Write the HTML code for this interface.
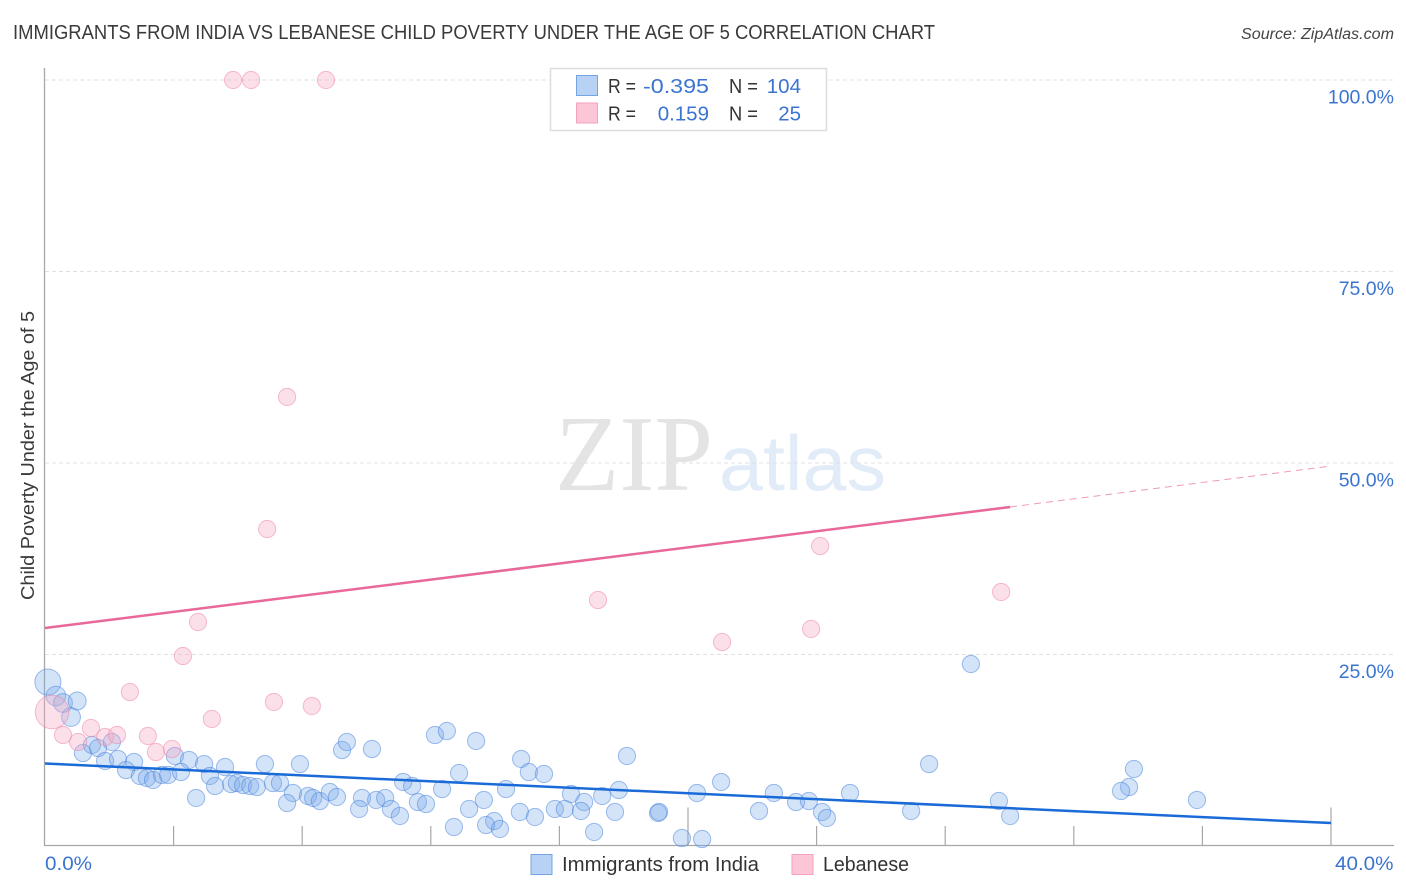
<!DOCTYPE html>
<html>
<head>
<meta charset="utf-8">
<title>Immigrants from India vs Lebanese Child Poverty Correlation Chart</title>
<style>
html,body{margin:0;padding:0;background:#fff;}
svg{display:block;font-family:"Liberation Sans",sans-serif;}
</style>
</head>
<body>
<svg id="chart" width="1406" height="892" viewBox="0 0 1406 892" xmlns="http://www.w3.org/2000/svg">
  <rect x="0" y="0" width="1406" height="892" fill="#ffffff"/>
  <text x="13" y="39" font-size="20" fill="#3a3a3a" textLength="922" lengthAdjust="spacingAndGlyphs">IMMIGRANTS FROM INDIA VS LEBANESE CHILD POVERTY UNDER THE AGE OF 5 CORRELATION CHART</text>
  <text x="1394" y="39" font-size="15.5" font-style="italic" fill="#444444" text-anchor="end" textLength="153" lengthAdjust="spacingAndGlyphs">Source: ZipAtlas.com</text>

  <g>
    <text x="555" y="490" font-family="'Liberation Serif',serif" font-size="108" fill="#e4e4e4" textLength="158" lengthAdjust="spacingAndGlyphs">ZIP</text>
    <text x="719" y="490" font-size="78" fill="#e2ecf9" textLength="167" lengthAdjust="spacingAndGlyphs">atlas</text>
  </g>

  <g id="grid"></g>
  <g id="axes"></g>
  <g id="india-points"></g>
  <g id="lebanese-points"></g>
  <g id="trends"></g>
  <g id="labels"></g>

  <text transform="translate(34,455.5) rotate(-90)" font-size="18.5" fill="#3a3a3a" text-anchor="middle" textLength="289" lengthAdjust="spacingAndGlyphs">Child Poverty Under the Age of 5</text>

  <g>
    <rect x="550.5" y="68.5" width="276" height="62" fill="#ffffff" stroke="#dddddd" stroke-width="1.5"/>
    <rect x="576.5" y="75.5" width="21" height="20" fill="#b7d2f5" stroke="#74a5e2" stroke-width="1"/>
    <text x="608" y="93" font-size="20" fill="#333333" textLength="28" lengthAdjust="spacingAndGlyphs">R =</text>
    <text x="643" y="93" font-size="20.5" fill="#3b74d0" textLength="66" lengthAdjust="spacingAndGlyphs">-0.395</text>
    <text x="729" y="93" font-size="20" fill="#333333" textLength="29" lengthAdjust="spacingAndGlyphs">N =</text>
    <text x="801" y="93" font-size="20.5" fill="#3b74d0" text-anchor="end">104</text>
    <rect x="576.5" y="103" width="21" height="20" fill="#fcc6d7" stroke="#f3a3bc" stroke-width="1"/>
    <text x="608" y="120.5" font-size="20" fill="#333333" textLength="28" lengthAdjust="spacingAndGlyphs">R =</text>
    <text x="709" y="120.5" font-size="20.5" fill="#3b74d0" text-anchor="end">0.159</text>
    <text x="729" y="120.5" font-size="20" fill="#333333" textLength="29" lengthAdjust="spacingAndGlyphs">N =</text>
    <text x="801" y="120.5" font-size="20.5" fill="#3b74d0" text-anchor="end">25</text>
  </g>

  <g>
    <rect x="531" y="854.5" width="21" height="20" fill="#b7d2f5" stroke="#74a5e2" stroke-width="1"/>
    <text x="562" y="871" font-size="20" fill="#333333" textLength="197" lengthAdjust="spacingAndGlyphs">Immigrants from India</text>
    <rect x="792" y="854.5" width="21" height="20" fill="#fcc6d7" stroke="#f3a3bc" stroke-width="1"/>
    <text x="823" y="871" font-size="20" fill="#333333" textLength="86" lengthAdjust="spacingAndGlyphs">Lebanese</text>
  </g>
</svg>
<script>
const indiaX = [0.09,0.34,0.56,1.00,0.81,1.18,1.46,1.65,2.08,1.87,2.27,2.77,2.52,2.95,3.17,3.36,3.64,3.83,4.04,4.48,4.23,4.95,5.13,5.60,5.29,5.79,5.97,6.16,6.38,6.59,6.84,7.93,7.09,7.31,7.71,7.53,8.18,8.34,8.55,8.86,9.08,4.70,9.24,9.39,10.17,12.13,12.50,13.41,14.81,15.05,15.52,18.10,11.14,11.42,12.88,12.35,14.34,9.86,9.77,10.30,10.58,10.76,11.04,11.60,11.85,13.19,13.65,12.72,13.97,13.72,14.15,14.77,15.24,15.86,16.17,16.36,16.77,16.67,17.33,17.85,17.73,17.08,19.07,19.10,19.81,20.28,21.03,20.44,22.21,22.67,23.36,23.76,24.17,24.32,25.04,26.94,27.50,28.80,29.67,30.02,33.87,33.72,33.47,35.83];
const indiaY = [21.41,19.58,18.67,18.93,16.84,12.14,13.19,12.79,13.58,11.10,11.36,10.97,9.92,9.14,8.88,8.62,9.27,9.27,11.75,11.23,9.66,10.70,9.14,10.31,7.83,8.09,8.22,7.96,7.83,7.70,10.70,10.70,8.22,8.22,6.92,5.61,6.53,6.27,5.87,7.05,6.40,6.27,12.53,13.58,12.66,14.49,15.01,13.71,11.36,9.66,9.40,11.75,8.36,7.83,9.53,7.44,7.44,6.27,4.83,6.01,6.27,4.83,3.92,5.74,5.48,4.83,6.01,2.48,3.26,2.74,2.22,4.44,3.79,4.83,4.83,6.79,5.74,4.57,6.53,7.31,4.44,1.83,4.31,4.44,1.04,6.92,8.36,0.91,4.57,6.92,5.74,5.87,4.44,3.66,6.92,4.57,10.70,23.76,5.87,3.92,10.05,7.70,7.18,6.01];
const indiaWeight = [2.3,1.3,1.2,1.1,1.2];
const lebaneseX = [5.85,6.41,8.74,7.53,6.91,24.11,29.74,17.20,23.83,21.06,4.76,4.29,2.64,7.12,8.30,5.19,0.22,0.56,1.43,1.03,1.87,2.24,3.20,3.45,3.95];
const lebaneseY = [100,100,100,58.62,41.38,39.16,33.16,32.11,28.33,26.63,29.24,24.80,20.10,18.80,18.28,16.58,17.49,14.49,15.40,13.58,14.23,14.49,14.36,12.27,12.66];
const lebaneseWeight = [1,1,1,1,1,1,1,1,1,1,1,1,1,1,1,1,3.8];
const indiaTrendX = [0,40];
const indiaTrendY = [10.77,3.0];
const lebaneseTrendX = [0,30.02,40];
const lebaneseTrendY = [28.46,44.26,49.6];
const yTicks = [25,50,75,100];
const yTickLabels = ["25.0%","50.0%","75.0%","100.0%"];
const xTicks = [0,4,8,12,16,20,24,28,32,36,40];
const xEndLabels = ["0.0%","40.0%"];

const NS = "http://www.w3.org/2000/svg";
const xScale = v => 45 + v * 32.15;
const yScale = v => 846 - v * 7.66;
const rScale = w => 8.6 * Math.sqrt(w === undefined ? 1 : w);

function make(tag, attrs, parent) {
  const el = document.createElementNS(NS, tag);
  for (const k in attrs) el.setAttribute(k, attrs[k]);
  parent.appendChild(el);
  return el;
}

const grid = document.getElementById("grid");
const axes = document.getElementById("axes");
const labels = document.getElementById("labels");

yTicks.forEach((t, i) => {
  const line = make("line", {x1: 45, x2: 1394, y1: yScale(t), y2: yScale(t), stroke: "#e0e0e0", "stroke-width": 1, "stroke-dasharray": "4 3"}, grid);
  
  
  const label = make("text", {x: 1394, y: yScale(t) + 23.5, "font-size": 19.5, fill: "#3b74d0", "text-anchor": "end"}, labels);
  
  
  label.textContent = yTickLabels[i];
});

const yAxis = make("line", {x1: 44.5, x2: 44.5, y1: 68, y2: 846, stroke: "#a8a8a8", "stroke-width": 1.3}, axes);


const xAxis = make("line", {x1: 44, x2: 1394, y1: 845.5, y2: 845.5, stroke: "#a8a8a8", "stroke-width": 1.3}, axes);



xTicks.forEach(t => {
  if (t === 0) return;
  const long = t === 20 || t === 40;
  const tick = make("line", {x1: xScale(t), x2: xScale(t), y1: long ? 807.5 : 826, y2: 846, stroke: "#a8a8a8", "stroke-width": 1.2}, axes);
  
  
});

const xMin = make("text", {x: 45, y: 870, "font-size": 19.5, fill: "#3b74d0", textLength: 47, lengthAdjust: "spacingAndGlyphs"}, labels);


xMin.textContent = xEndLabels[0];
const xMax = make("text", {x: 1335, y: 870, "font-size": 19.5, fill: "#3b74d0", textLength: 58.5, lengthAdjust: "spacingAndGlyphs"}, labels);


xMax.textContent = xEndLabels[1];

const indiaGroup = document.getElementById("india-points");
indiaX.forEach((v, i) => {
  const c = make("circle", {cx: xScale(v), cy: yScale(indiaY[i]), r: rScale(indiaWeight[i]), fill: "rgba(120,170,235,0.33)", stroke: "rgba(70,130,220,0.52)", "stroke-width": 1}, indiaGroup);
  
  
});

const lebaneseGroup = document.getElementById("lebanese-points");
lebaneseX.forEach((v, i) => {
  const c = make("circle", {cx: xScale(v), cy: yScale(lebaneseY[i]), r: rScale(lebaneseWeight[i]), fill: "rgba(248,170,195,0.36)", stroke: "rgba(236,130,165,0.52)", "stroke-width": 1}, lebaneseGroup);
  
  
});

const trends = document.getElementById("trends");
const indiaLine = make("line", {x1: xScale(indiaTrendX[0]), y1: yScale(indiaTrendY[0]), x2: xScale(indiaTrendX[1]), y2: yScale(indiaTrendY[1]), stroke: "#1a6bd8", "stroke-width": 2.5}, trends);


const lebLine = make("line", {x1: xScale(lebaneseTrendX[0]), y1: yScale(lebaneseTrendY[0]), x2: xScale(lebaneseTrendX[1]), y2: yScale(lebaneseTrendY[1]), stroke: "#e8689a", "stroke-width": 2.5}, trends);


const lebDash = make("line", {x1: xScale(lebaneseTrendX[1]), y1: yScale(lebaneseTrendY[1]), x2: xScale(lebaneseTrendX[2]), y2: yScale(lebaneseTrendY[2]), stroke: "#ee9abb", "stroke-width": 1, "stroke-dasharray": "7 5"}, trends);


</script>
</body>
</html>
